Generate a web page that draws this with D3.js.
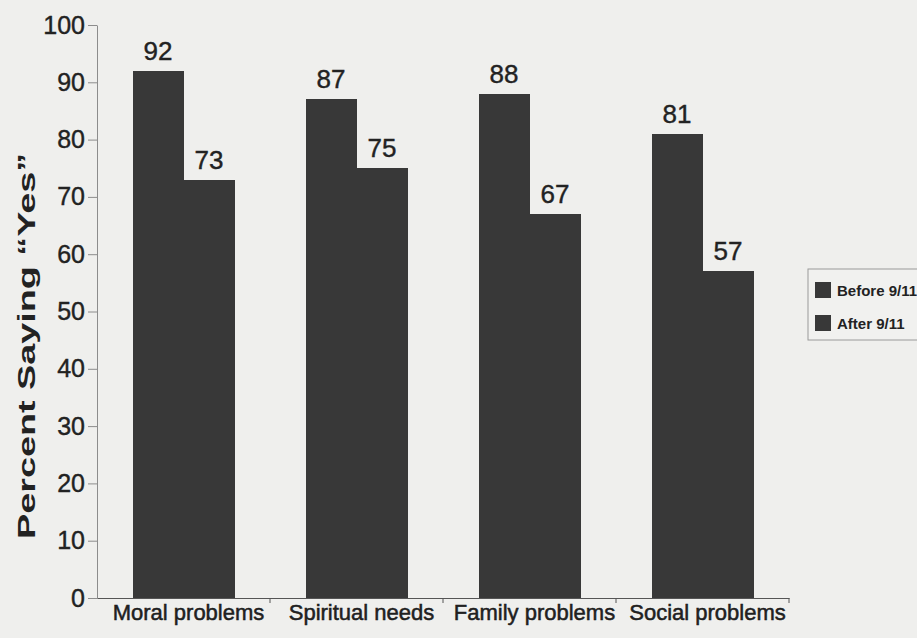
<!DOCTYPE html>
<html>
<head>
<meta charset="utf-8">
<script src="https://cdn.jsdelivr.net/npm/d3@7"></script>
<style>
  html, body { margin: 0; padding: 0; background: #efefed; }
  svg { display: block; }
  text { font-family: "Liberation Sans", Arial, Helvetica, sans-serif; fill: #222; }
</style>
</head>
<body>
<svg id="chart" width="917" height="638"></svg>
<script>
// Share of respondents answering "Yes", before and after 9/11
const categories = ["Moral problems", "Spiritual needs", "Family problems", "Social problems"];
const seriesNames = ["Before 9/11", "After 9/11"];
const beforeValues = [92, 87, 88, 81];
const afterValues = [73, 75, 67, 57];
const yTickValues = [0, 10, 20, 30, 40, 50, 60, 70, 80, 90, 100];
const yAxisTitle = "Percent Saying \u201cYes\u201d";

const rows = categories.map((c, i) => ({
  category: c,
  values: [
    { series: seriesNames[0], value: beforeValues[i] },
    { series: seriesNames[1], value: afterValues[i] }
  ]
}));

const W = 917, H = 638;
const margin = { top: 25, right: 128, bottom: 40, left: 97 };
const innerW = W - margin.left - margin.right;
const innerH = H - margin.top - margin.bottom;

const barColor = "#383838";
const axisColor = "#8c8c8c";
const inkColor = "#222";

const svg = d3.select("#chart");
const g = svg.append("g").attr("transform", `translate(${margin.left},${margin.top})`);

const x0 = d3.scaleBand().domain(categories).range([0, innerW]).paddingInner(0).paddingOuter(0);
const x1 = d3.scaleBand().domain(seriesNames).range([0, x0.bandwidth()]).paddingInner(0).paddingOuter(0.7);
const y = d3.scaleLinear().domain([0, 100]).range([innerH, 0]);

// y axis
const yAxis = g.append("g")
  .call(d3.axisLeft(y).tickValues(yTickValues).tickSize(9).tickSizeOuter(0).tickPadding(3));
yAxis.select(".domain").attr("stroke", axisColor);
yAxis.selectAll(".tick line").attr("stroke", axisColor);
yAxis.selectAll(".tick text")
  .style("font-size", "25px")
  .style("font-family", "'Liberation Sans', Arial, sans-serif")
  .attr("fill", inkColor)
  .attr("stroke", inkColor)
  .attr("stroke-width", 0.4);

// bars
const groups = g.selectAll(".grp").data(rows).join("g")
  .attr("class", "grp")
  .attr("transform", d => `translate(${x0(d.category)},0)`);

groups.selectAll("rect").data(d => d.values).join("rect")
  .attr("x", d => x1(d.series))
  .attr("y", d => y(d.value))
  .attr("width", x1.bandwidth() + 0.6)
  .attr("height", d => innerH - y(d.value))
  .attr("fill", barColor)
  .attr("shape-rendering", "crispEdges");

// value labels
groups.selectAll("text.val").data(d => d.values).join("text")
  .attr("class", "val")
  .attr("x", d => x1(d.series) + x1.bandwidth() / 2)
  .attr("y", d => y(d.value) - 11)
  .attr("text-anchor", "middle")
  .style("font-size", "26px")
  .attr("stroke", inkColor)
  .attr("stroke-width", 0.4)
  .text(d => d.value);

// x axis: baseline with ticks at category boundaries
const xAxis = g.append("g").attr("transform", `translate(0,${innerH})`)
  .call(d3.axisBottom(x0).tickSize(0).tickSizeOuter(0).tickPadding(6));
xAxis.select(".domain").attr("stroke", "#555");
xAxis.selectAll(".tick text")
  .attr("dx", 5)
  .style("font-size", "22px")
  .style("font-family", "'Liberation Sans', Arial, sans-serif")
  .attr("fill", "#1a1a1a")
  .attr("stroke", "#1a1a1a")
  .attr("stroke-width", 0.5);

g.append("g").selectAll("line").data(categories).join("line")
  .attr("x1", d => x0(d) + x0.step())
  .attr("x2", d => x0(d) + x0.step())
  .attr("y1", innerH)
  .attr("y2", innerH + 5)
  .attr("stroke", "#555");

// y axis title
svg.append("text")
  .attr("transform", `translate(27,${margin.top + innerH * 0.56}) rotate(-90)`)
  .attr("text-anchor", "middle")
  .attr("dy", "0.35em")
  .style("font-size", "23px")
  .style("font-weight", "bold")
  .attr("textLength", 386)
  .attr("lengthAdjust", "spacingAndGlyphs")
  .text(yAxisTitle);

// legend
const legend = svg.append("g").attr("transform", "translate(808,269)");
legend.append("rect")
  .attr("width", 130).attr("height", 71)
  .attr("fill", "#f1f1ef")
  .attr("stroke", "#9a9a9a");
const li = legend.selectAll(".li").data(seriesNames).join("g")
  .attr("class", "li")
  .attr("transform", (d, i) => `translate(7,${13 + i * 33})`);
li.append("rect").attr("width", 16).attr("height", 16).attr("fill", barColor);
li.append("text")
  .attr("x", 22).attr("y", 14)
  .style("font-size", "15px")
  .style("font-weight", "bold")
  .text(d => d);
</script>
</body>
</html>
